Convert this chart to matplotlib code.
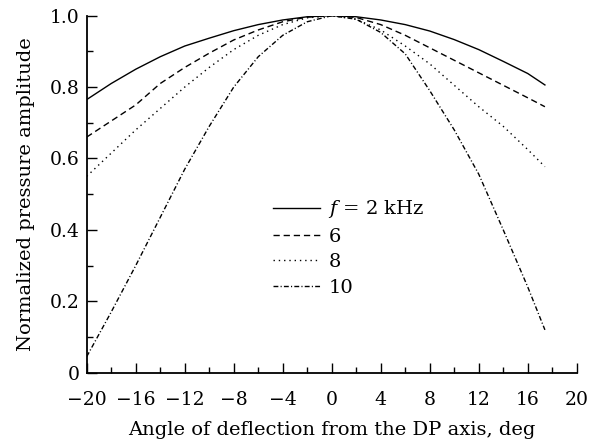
import numpy as np
import matplotlib
matplotlib.use("Agg")
import matplotlib.pyplot as plt
from matplotlib.ticker import MultipleLocator

plt.rcParams['font.family'] = 'DejaVu Serif'
plt.rcParams['mathtext.fontset'] = 'dejavuserif'

# angle of deflection, deg
angle = [-20, -18, -16, -14, -12, -10, -8, -6, -4, -2, 0, 2, 4, 6, 8, 10, 12, 14, 16, 17.4]

# normalized pressure amplitude for each frequency
amp_2k = [0.765, 0.81, 0.85, 0.885, 0.915, 0.937, 0.958, 0.975, 0.988, 0.997, 1.0,
          0.997, 0.988, 0.975, 0.957, 0.933, 0.905, 0.872, 0.838, 0.806]
amp_6k = [0.66, 0.705, 0.75, 0.81, 0.855, 0.895, 0.932, 0.96, 0.983, 0.996, 1.0,
          0.995, 0.975, 0.945, 0.91, 0.875, 0.84, 0.805, 0.77, 0.745]
amp_8k = [0.55, 0.615, 0.68, 0.74, 0.80, 0.855, 0.905, 0.945, 0.975, 0.994, 1.0,
          0.99, 0.96, 0.915, 0.865, 0.805, 0.745, 0.69, 0.625, 0.577]
amp_10k = [0.045, 0.17, 0.30, 0.435, 0.57, 0.69, 0.80, 0.885, 0.945, 0.983, 1.0,
           0.99, 0.953, 0.893, 0.79, 0.68, 0.556, 0.40, 0.24, 0.12]

labels = ['$f$ = 2 kHz', '6', '8', '10']

fig = plt.figure(figsize=(5.98, 4.43), dpi=100)
ax = fig.add_axes([0.145, 0.1587, 0.8195, 0.8059])

ax.plot(angle, amp_2k, color='black', lw=1.0, ls='-', label=labels[0])
ax.plot(angle, amp_6k, color='black', lw=1.0, ls=(0, (4.5, 2.8)), label=labels[1])
ax.plot(angle, amp_8k, color='black', lw=1.0, ls=(0, (1, 2.8)), label=labels[2])
ax.plot(angle, amp_10k, color='black', lw=1.0, ls=(0, (3.5, 1.6, 0.8, 1.6)), label=labels[3])

ax.set_xlim(-20, 20)
ax.set_ylim(0, 1.0)
ax.set_xticks(np.arange(-20, 21, 4))
ax.set_xticklabels(['\u221220', '\u221216', '\u221212', '\u22128', '\u22124',
                    '0', '4', '8', '12', '16', '20'])
ax.xaxis.set_minor_locator(MultipleLocator(2))
ax.set_yticks([0, 0.2, 0.4, 0.6, 0.8, 1.0])
ax.set_yticklabels(['0', '0.2', '0.4', '0.6', '0.8', '1.0'])
ax.yaxis.set_minor_locator(MultipleLocator(0.1))

ax.spines['top'].set_visible(False)
ax.spines['right'].set_visible(False)
ax.spines['left'].set_linewidth(1.3)
ax.spines['bottom'].set_linewidth(1.3)
ax.tick_params(which='major', direction='in', length=7, width=1.0, labelsize=13.5)
ax.tick_params(axis='x', which='major', pad=13)
ax.tick_params(axis='y', which='major', pad=5)
ax.tick_params(which='minor', direction='in', length=4, width=1.0)

ax.set_xlabel('Angle of deflection from the DP axis, deg', fontsize=14, labelpad=9)
ax.set_ylabel('Normalized pressure amplitude', fontsize=14, labelpad=11)

ax.legend(loc='upper left', bbox_to_anchor=(0.38, 0.488), frameon=False, fontsize=14,
          handlelength=2.4, handletextpad=0.45, labelspacing=0.38, borderpad=0,
          borderaxespad=0)

plt.savefig('out.png', dpi=100)
